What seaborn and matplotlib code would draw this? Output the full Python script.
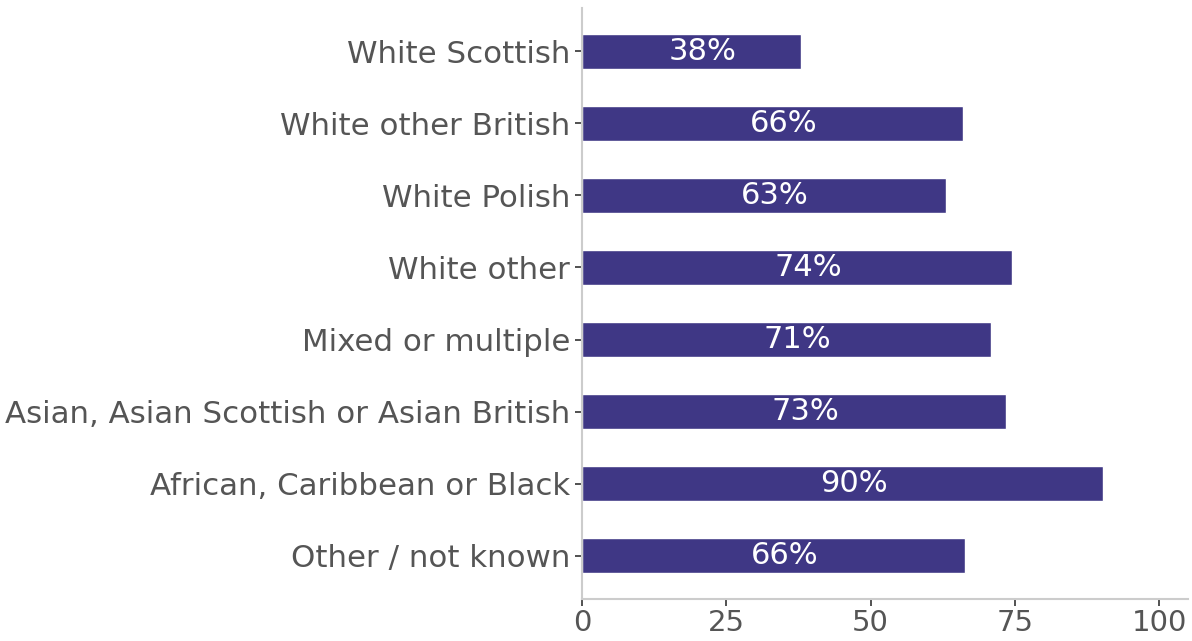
import matplotlib
matplotlib.use("Agg")
import matplotlib.pyplot as plt
import seaborn as sns
import pandas as pd

categories = ["White Scottish", "White other British", "White Polish", "White other",
              "Mixed or multiple", "Asian, Asian Scottish or Asian British",
              "African, Caribbean or Black", "Other / not known"]
values = [38, 66, 63, 74.5, 70.8, 73.4, 90.3, 66.3]
labels = ["38%", "66%", "63%", "74%", "71%", "73%", "90%", "66%"]
xticks = [0, 25, 50, 75, 100]

sns.set_style("white")
plt.rcParams['font.family'] = ['DejaVu Sans']

df = pd.DataFrame({"cat": categories, "val": values})
fig = plt.figure(figsize=(11.92, 6.41), dpi=100)
ax = fig.add_axes([0.4883, 0.0655, 0.5083, 0.922])
sns.barplot(data=df, y="cat", x="val", color="#3f3785", saturation=1, width=0.49, ax=ax, orient="h")
for i, (v, l) in enumerate(zip(values, labels)):
    ax.annotate(l, (v / 2, i), xytext=(8, 0), textcoords="offset points",
                ha="center", va="center", color="white", fontsize=22)
ax.set_xlim(0, 105)
ax.set_ylim(7.6, -0.6)
ax.set_xticks(xticks)
ax.set_xlabel("")
ax.set_ylabel("")
for s in ["top", "right"]:
    ax.spines[s].set_visible(False)
for s in ["left", "bottom"]:
    ax.spines[s].set_color("#cccccc")
    ax.spines[s].set_linewidth(1.5)
ax.tick_params(axis="y", labelsize=22.2, labelcolor="#555555", color="#333333",
               length=5, width=1.2, left=True, pad=3.5)
ax.tick_params(axis="x", labelsize=21, labelcolor="#555555", color="#333333",
               length=5, width=1.2, bottom=True, pad=2)
fig.savefig("out.png", dpi=100)
